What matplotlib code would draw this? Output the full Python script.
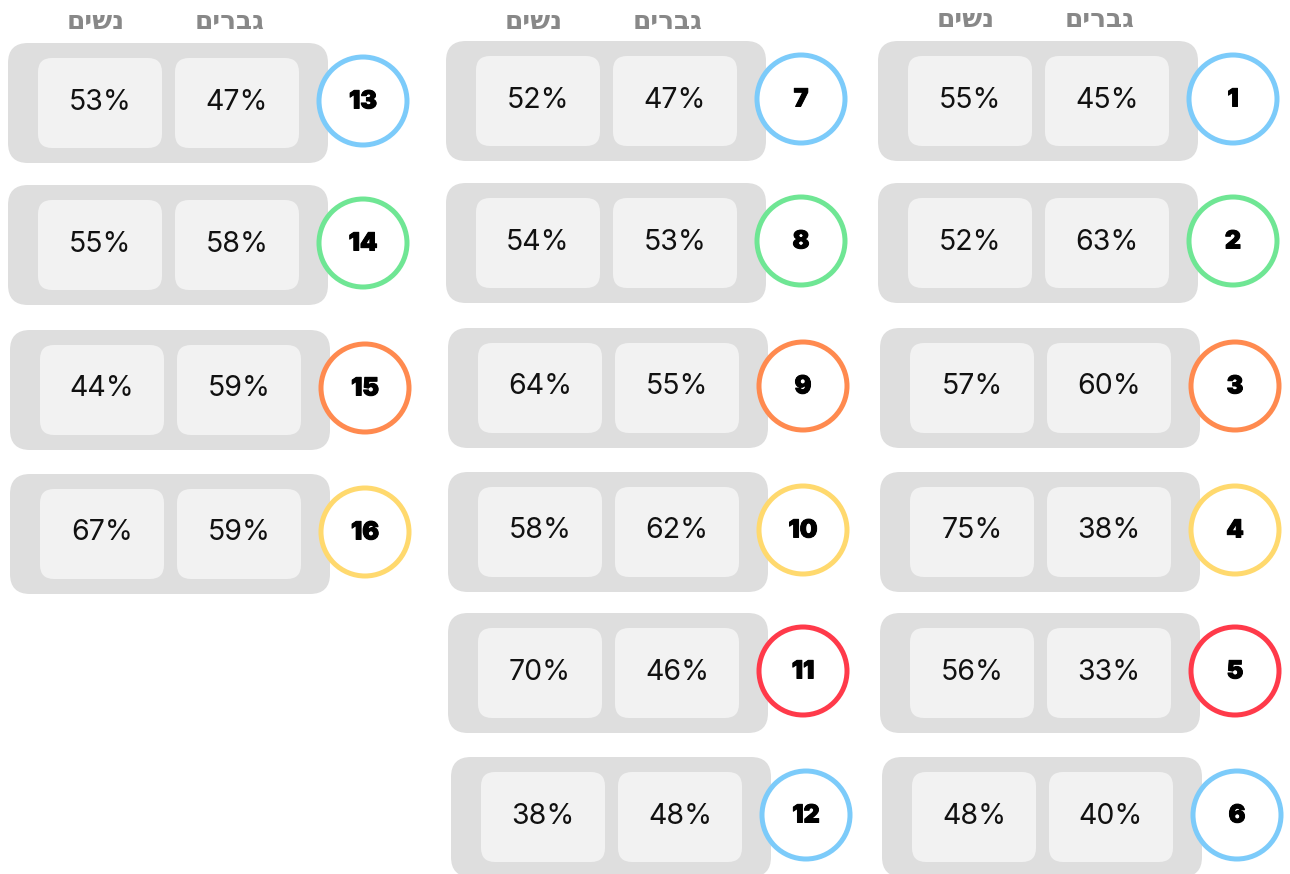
import matplotlib.pyplot as plt
import matplotlib.patheffects as pe
from matplotlib.patches import FancyBboxPatch, Circle

# data: question number, women %, men %
numbers = list(range(1, 17))
women = [55, 52, 57, 75, 56, 48, 52, 54, 64, 58, 70, 38, 53, 55, 44, 67]
men = [45, 63, 60, 38, 33, 40, 47, 53, 55, 62, 46, 48, 47, 58, 59, 59]
header_women = "נשים"
header_men = "גברים"

blue, green, orange, yellow, red = "#7ccbfa", "#6fe694", "#ff8a4f", "#ffd96e", "#ff3a4a"
ring_colors = [blue, green, orange, yellow, red, blue,
               blue, green, orange, yellow, red, blue,
               blue, green, orange, yellow]

# layout (pixels): card top-left corner for each item
card_x = [878, 878, 880, 880, 880, 882,
          446, 446, 448, 448, 448, 451,
          8, 8, 10, 10]
card_y = [41, 183, 328, 472, 613, 757,
          41, 183, 328, 472, 613, 757,
          43, 185, 330, 474]
header_pos = [(878, 20), (446, 22), (8, 22)]

W, H = 1290, 874
fig = plt.figure(figsize=(W / 100, H / 100), dpi=100)
ax = fig.add_axes([0, 0, 1, 1])
ax.set_xlim(0, W)
ax.set_ylim(H, 0)
ax.axis("off")

pct_font = ["Inter", "DejaVu Sans"]
thick = [pe.withStroke(linewidth=0.7, foreground="black")]

for hx, hy in header_pos:
    # matplotlib has no bidi support, so reverse the Hebrew for display
    ax.text(hx + 88, hy, header_women[::-1], ha="center", va="center",
            fontsize=19, fontweight="bold", color="#888888", family="DejaVu Sans")
    ax.text(hx + 222, hy, header_men[::-1], ha="center", va="center",
            fontsize=19, fontweight="bold", color="#888888", family="DejaVu Sans")

for i in range(16):
    x0, y0 = card_x[i], card_y[i]
    ax.add_patch(FancyBboxPatch((x0, y0), 320, 120,
                                boxstyle="round,pad=0,rounding_size=20",
                                fc="#dedede", ec="none", zorder=1))
    for bx, val in [(x0 + 30, women[i]), (x0 + 167, men[i])]:
        ax.add_patch(FancyBboxPatch((bx, y0 + 15), 124, 90,
                                    boxstyle="round,pad=0,rounding_size=14",
                                    fc="#f2f2f2", ec="none", zorder=2))
        ax.text(bx + 62, y0 + 59, f"{val}%", ha="center", va="center",
                fontsize=20.5, color="#111111", family=pct_font, zorder=3)
    cx, cy = x0 + 355, y0 + 58
    ax.add_patch(Circle((cx, cy), 44, fc="white", ec=ring_colors[i],
                        lw=3.6, zorder=4))
    ax.text(cx, cy + 1, str(numbers[i]), ha="center", va="center",
            fontsize=18, fontweight="black", color="black",
            family=pct_font, zorder=5, path_effects=thick)

fig.savefig("out.png", dpi=100)
